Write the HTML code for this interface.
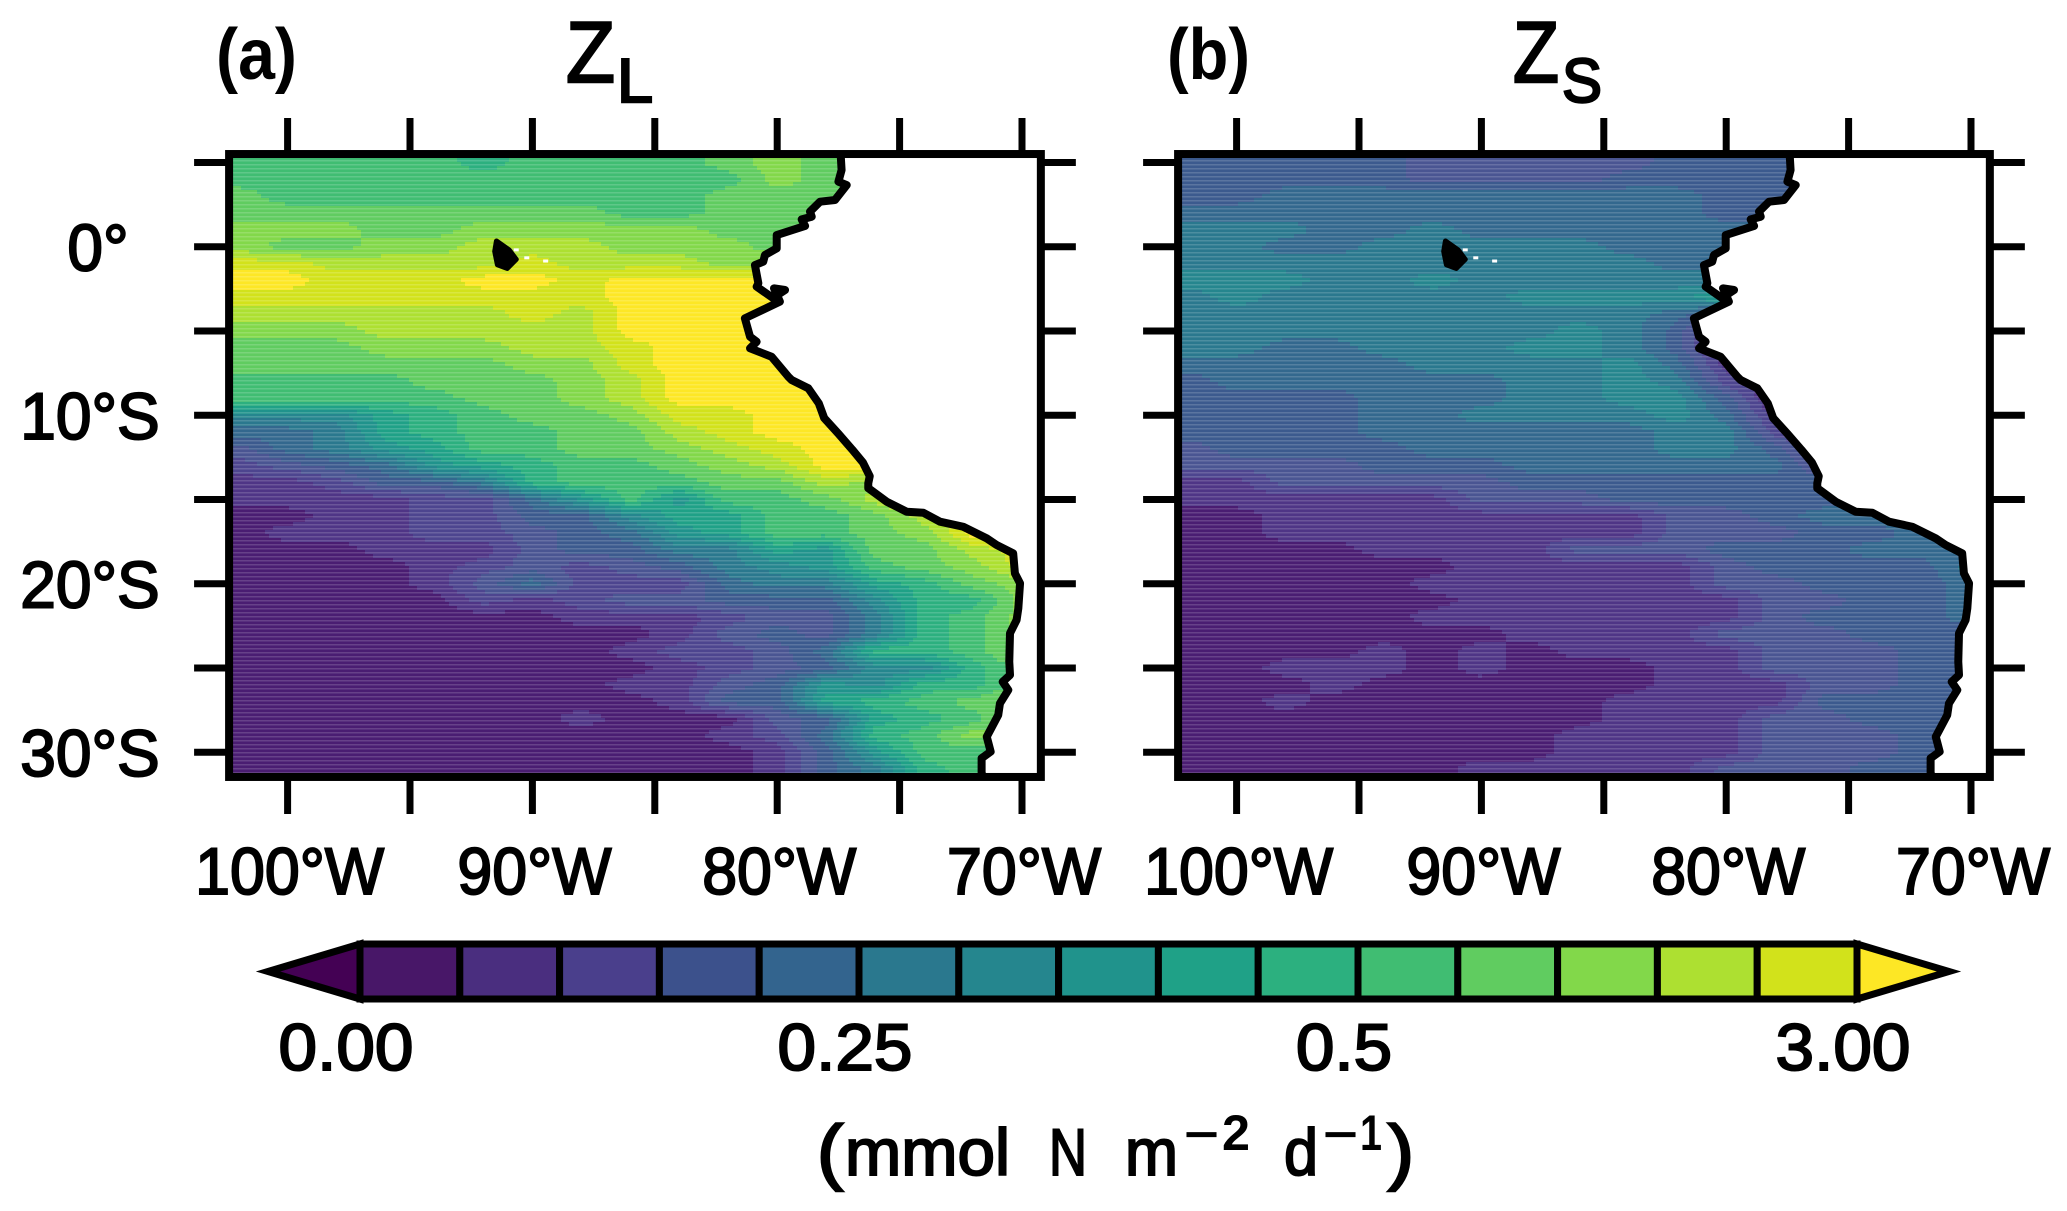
<!DOCTYPE html>
<html lang="en">
<head>
<meta charset="utf-8">
<title>Zooplankton grazing maps</title>
<style>
html,body{margin:0;padding:0;background:#fff;width:2067px;height:1211px;overflow:hidden}
svg{display:block}
text{font-family:"Liberation Sans",sans-serif;fill:#000}
.tick{font-size:66px;stroke:#000;stroke-width:2px}
.ttl{stroke:#000;stroke-width:2.4px}
</style>
</head>
<body>
<svg id="chart" xmlns="http://www.w3.org/2000/svg" width="2067" height="1211" viewBox="0 0 2067 1211">
<defs>
<pattern id="scan" patternUnits="userSpaceOnUse" width="4" height="4"><rect width="4" height="1.5" fill="#fff" fill-opacity="0.16"/></pattern>
</defs>
<text x="216" y="79" font-size="72" font-weight="bold" textLength="81" lengthAdjust="spacingAndGlyphs">(a)</text>
<text x="1167" y="79" font-size="72" font-weight="bold" textLength="83" lengthAdjust="spacingAndGlyphs">(b)</text>
<g><text class="ttl" x="566" y="82" font-size="86" textLength="49" lengthAdjust="spacingAndGlyphs">Z</text><text class="ttl" x="617" y="102" font-size="62" textLength="36" lengthAdjust="spacingAndGlyphs">L</text></g>
<g><text class="ttl" x="1513" y="82" font-size="86" textLength="46" lengthAdjust="spacingAndGlyphs">Z</text><text class="ttl" x="1562" y="102" font-size="62" textLength="40" lengthAdjust="spacingAndGlyphs">S</text></g>
<g id="panels"></g>
<g id="colorbar"></g>
<g>
<text class="ttl" x="817" y="1176" font-size="72" textLength="26" lengthAdjust="spacingAndGlyphs">(</text>
<text class="tick" x="845" y="1175" textLength="165" lengthAdjust="spacingAndGlyphs">mmol</text>
<text class="tick" x="1049" y="1175" textLength="38" lengthAdjust="spacingAndGlyphs">N</text>
<text class="tick" x="1125" y="1175" textLength="53" lengthAdjust="spacingAndGlyphs">m</text>
<text x="1184" y="1150" font-size="46" font-weight="bold" textLength="35" lengthAdjust="spacingAndGlyphs">−</text>
<text x="1222" y="1150" font-size="50" font-weight="bold" textLength="28" lengthAdjust="spacingAndGlyphs">2</text>
<text class="tick" x="1284" y="1175" textLength="34" lengthAdjust="spacingAndGlyphs">d</text>
<text x="1323" y="1150" font-size="46" font-weight="bold" textLength="35" lengthAdjust="spacingAndGlyphs">−</text>
<text x="1360" y="1150" font-size="50" font-weight="bold" textLength="22" lengthAdjust="spacingAndGlyphs">1</text>
<text class="ttl" x="1388" y="1176" font-size="72" textLength="26" lengthAdjust="spacingAndGlyphs">)</text>
</g>
</svg>
<script>
// ---------- data ----------
const lonTicks = [-100,-95,-90,-85,-80,-75,-70];
const latTicks = [5,0,-5,-10,-15,-20,-25,-30];
const lonLabels = [[-100,"100°W"],[-90,"90°W"],[-80,"80°W"],[-70,"70°W"]];
const latLabels = [[0,"0°"],[-10,"10°S"],[-20,"20°S"],[-30,"30°S"]];
const gridLons = [-102,-100,-98,-96,-94,-92,-90,-88,-86,-84,-82,-80,-78,-76,-74,-72,-70,-68];
const gridLats = [5,4,3,2,1,0,-1,-2,-3,-4,-5,-6,-7,-8,-9,-10,-11,-12,-13,-14,-15,-16,-17,-18,-19,-20,-21,-22,-23,-24,-25,-26,-27,-28,-29,-30,-31,-32];
const colorbarLabels = [[0,"0.00"],[5,"0.25"],[10,"0.5"],[15,"3.00"]];
const palette = ["#440154","#481768","#4a2e7f","#4a3f8c","#3c518c","#33648e","#2a788e","#25868e","#20938c","#1fa187","#2cb07f","#40bd72","#60cc60","#82d84a","#ade031","#d2e21b","#fde725"];
const fieldPalette = ["#4a1d72","#4f3586","#4d458f","#4a5592","#3c5a8e","#33688e","#2a788e","#25868e","#20938c","#1fa187","#2cb07f","#40bd72","#60cc60","#82d84a","#ade031","#d2e21b","#fde725"];
const coastLon = [-77.41,-77.37,-77.5,-77.16,-77.64,-78.25,-78.66,-78.59,-79.0,-78.86,-80.02,-80.02,-80.5,-80.57,-80.91,-80.77,-80.84,-80.16,-79.89,-79.68,-80.13,-79.89,-81.32,-81.11,-80.84,-81.11,-80.23,-79.55,-79.41,-78.73,-78.3,-78.08,-77.5,-76.93,-76.5,-76.22,-76.28,-76.28,-75.53,-74.71,-74.03,-73.35,-72.4,-71.44,-71.04,-70.36,-70.29,-70.08,-70.15,-70.22,-70.49,-70.52,-70.49,-70.79,-70.56,-70.9,-70.97,-71.44,-71.28,-71.65,-71.65,-71.55];
const coastLat = [5.54,4.55,3.86,3.66,2.77,2.67,2.08,1.78,1.62,1.23,0.69,-0.1,-0.49,-0.89,-1.09,-2.17,-2.37,-3.06,-2.77,-2.57,-2.47,-3.26,-4.25,-5.34,-5.64,-6.03,-6.53,-7.71,-7.91,-8.4,-9.3,-10.17,-11.1,-12.05,-12.8,-13.62,-14.04,-14.33,-15.13,-15.73,-15.79,-16.32,-16.62,-17.31,-17.7,-18.2,-19.38,-19.98,-21.46,-22.15,-22.94,-24.63,-25.42,-25.82,-26.31,-27.1,-27.79,-29.08,-29.97,-30.36,-31.26,-31.5];
const islandLon = [-91.47,-90.95,-90.66,-91.03,-91.43,-91.54];
const islandLat = [0.34,-0.19,-0.75,-1.29,-1.07,-0.28];
const isletLon = [-90.66,-90.23,-89.46];
const isletLat = [-0.19,-0.66,-0.85];
const zlLevels = [
[11,11,11,11,11,10,11,11,11,11,12,13,12,12],
[11,11,11,11,11,11,11,11,11,11,11,13,12,12],
[12,11,11,11,11,11,11,11,11,11,12,12,12,12],
[12,12,12,12,12,12,12,12,11,11,12,12,12,12],
[13,13,13,12,12,13,13,13,13,13,12,12,12,12],
[13,12,12,13,13,14,14,14,13,13,13,12,12],
[15,15,14,14,14,14,15,14,14,14,13,13,13],
[16,16,15,15,15,16,16,15,16,16,16,16,16],
[15,15,15,15,15,15,15,15,16,16,16,16,16],
[14,14,14,14,14,14,15,14,16,16,16,16,16],
[13,13,13,14,14,14,14,14,16,16,16,16,16],
[12,12,12,13,13,13,14,14,15,16,16,16,16],
[12,12,12,12,12,12,13,13,15,16,16,16,16],
[11,11,11,11,12,12,12,13,14,16,16,16,16],
[11,11,11,11,11,12,12,13,14,16,16,16,16],
[7,7,7,9,10,11,12,12,13,15,15,16,16,16],
[5,5,6,9,10,11,11,12,12,14,15,16,16,16],
[3,5,6,8,9,11,11,12,12,13,14,15,16,16],
[2,3,4,5,8,9,10,11,11,12,13,14,16,16],
[1,1,2,4,4,6,10,11,11,11,12,12,14,13,13],
[1,1,1,1,2,2,5,8,11,8,11,11,12,14,16,16],
[0,0,1,1,2,2,4,4,7,9,9,11,11,12,14,15,15],
[0,1,1,1,2,2,3,4,5,8,9,11,11,12,13,16,16],
[0,0,0,1,1,1,3,4,4,6,6,9,8,12,12,14,15,15],
[0,0,0,0,1,2,3,2,3,4,6,7,8,11,12,13,15,15],
[0,0,0,0,1,3,5,2,2,2,5,6,6,9,10,12,13,13],
[0,0,0,0,0,2,1,2,3,3,4,4,4,7,10,10,13,13],
[0,0,0,0,0,0,0,1,1,1,2,3,3,6,10,11,13,13],
[0,0,0,0,0,0,0,0,0,1,3,4,3,6,10,11,13,13],
[0,0,0,0,0,0,0,0,1,2,2,3,5,10,10,11,13,13],
[0,0,0,0,0,0,0,0,0,1,2,3,4,7,7,10,12,12],
[0,0,0,0,0,0,0,0,1,1,3,4,8,7,10,10,12,12],
[0,0,0,0,0,0,0,0,0,1,4,4,9,10,11,12,13,13],
[0,0,0,0,0,0,0,1,0,0,0,3,4,9,10,11,13,13],
[0,0,0,0,0,0,0,0,0,0,1,2,5,10,11,13,13,13],
[0,0,0,0,0,0,0,0,0,0,0,1,4,8,11,11,11,11],
[0,0,0,0,0,0,0,0,0,0,0,1,4,6,10,11,11,11],
[0,0,0,0,0,0,0,0,0,0,0,1,4,6,10,11,11,11]
];
const zsLevels = [
[4,4,4,4,4,3,3,3,3,3,4,4,4,4],
[4,4,4,4,4,3,3,3,3,4,4,4,4,4],
[4,4,5,5,5,5,5,5,5,5,5,4,4,4],
[5,5,5,5,5,5,5,5,5,5,5,4,4,4],
[6,6,6,5,5,6,5,5,5,5,5,5,5],
[6,6,5,5,6,6,6,6,6,5,5,5,5],
[6,6,6,6,6,6,6,6,6,6,5,5,5],
[7,7,7,6,6,7,6,6,6,6,6,6,6],
[6,7,6,6,6,6,6,7,7,7,7,9,9],
[6,6,6,6,6,6,6,6,6,6,5,3,3],
[6,6,6,6,6,6,6,6,7,6,4,0,0],
[6,6,5,5,6,6,6,7,7,6,4,0,0],
[5,5,5,5,5,6,6,6,6,7,5,1,1],
[4,5,5,5,5,5,5,6,6,7,6,2,0,0],
[4,4,4,4,5,5,5,6,6,7,7,4,0,0],
[4,4,4,4,5,5,6,6,6,6,7,5,1,1],
[4,4,4,4,5,5,5,5,5,5,6,6,2,1,1],
[3,4,4,4,4,5,5,5,5,5,6,6,4,1,1],
[3,3,3,3,4,4,4,5,5,5,5,5,5,2,2],
[1,1,3,3,3,3,3,4,4,4,4,4,4,4,4],
[1,1,1,1,1,1,3,3,3,4,4,4,4,4,4],
[0,0,1,1,1,1,1,1,1,1,3,3,4,5,5,5],
[0,0,1,1,1,1,1,1,1,1,3,3,3,4,4,5,5],
[0,0,0,0,1,1,1,1,3,3,3,4,4,4,5,5,5,5],
[0,0,0,0,0,0,1,1,1,1,1,3,4,4,4,4,6,6],
[0,0,0,0,0,1,1,1,1,1,1,3,3,4,4,4,5,5],
[0,0,0,0,0,0,1,1,1,1,1,1,3,3,4,4,5,5],
[0,0,0,0,0,1,1,1,1,1,1,1,3,4,4,4,5,5],
[0,0,0,0,0,0,0,1,1,1,1,3,3,3,4,4,4,4],
[0,0,0,0,1,0,1,0,1,1,1,1,3,3,3,4,4,4],
[0,0,1,1,1,0,1,0,0,0,1,1,3,3,3,4,4,4],
[0,0,0,1,0,0,0,0,0,0,1,1,1,3,3,4,4,4],
[0,0,1,0,0,0,0,0,0,1,1,1,1,4,4,4,4,4],
[0,0,0,0,0,0,0,0,0,1,1,1,3,3,4,4,4,4],
[0,0,0,0,0,0,0,0,1,1,1,1,3,3,3,4,4,4],
[0,0,0,0,0,0,0,0,1,1,1,1,3,3,3,4,4,4],
[0,0,0,0,0,0,1,1,1,1,1,3,3,3,4,4,4,4],
[0,0,0,0,0,0,1,1,1,1,1,3,3,3,4,4,4,4]
];

// ---------- axis functions ----------
const SVGNS = "http://www.w3.org/2000/svg";
const xScale = 24.48, yScale = 16.85;
const X0 = 287.6, Y0 = 246.7;
const LEFT_LON = -102.39, RIGHT_LON = -69.23, TOP_LAT = 5.5, BOTTOM_LAT = -31.47;
function lonToX(lon, off){ return X0 + (lon + 100) * xScale + off; }
function latToY(lat){ return Y0 - lat * yScale; }
function mk(tag, attrs, parent){
  const e = document.createElementNS(SVGNS, tag);
  for (const k in attrs) e.setAttribute(k, attrs[k]);
  parent.appendChild(e);
  return e;
}
function squeeze(t, factor){
  const len = t.getComputedTextLength();
  t.setAttribute("textLength", (len * factor).toFixed(1));
  t.setAttribute("lengthAdjust", "spacingAndGlyphs");
}
function sample(levels, lon, lat){
  let fx = (lon - gridLons[0]) / (gridLons[1] - gridLons[0]);
  let fy = (gridLats[0] - lat) / (gridLats[0] - gridLats[1]);
  fx = Math.max(0, Math.min(gridLons.length - 1, fx));
  fy = Math.max(0, Math.min(gridLats.length - 1, fy));
  const i0 = Math.floor(fx), j0 = Math.floor(fy);
  const i1 = Math.min(i0 + 1, gridLons.length - 1), j1 = Math.min(j0 + 1, gridLats.length - 1);
  const get = (j, i) => { const r = levels[j]; return r[Math.min(i, r.length - 1)]; };
  const tx = fx - i0, ty = fy - j0;
  return (get(j0,i0)*(1-tx) + get(j0,i1)*tx)*(1-ty) + (get(j1,i0)*(1-tx) + get(j1,i1)*tx)*ty;
}
function drawPanel(id, levels, off){
  const root = document.getElementById("panels");
  const g = mk("g", {}, root);
  
  
  const pl = lonToX(LEFT_LON, off), pr = lonToX(RIGHT_LON, off), pt = latToY(TOP_LAT), pb = latToY(BOTTOM_LAT);

  // ocean clip from coast arrays
  const clip = mk("clipPath", {id: "ocean-" + id}, g);
  let pts = [[pl - 1, pt - 1]];
  coastLon.forEach((lon, i) => pts.push([lonToX(lon, off), latToY(coastLat[i])]));
  pts.push([lonToX(coastLon[coastLon.length-1], off), pb + 1], [pl - 1, pb + 1]);
  mk("polygon", {points: pts.map(p => p.join(",")).join(" ")}, clip);
  const boxClip = mk("clipPath", {id: "box-" + id}, g);
  mk("rect", {x: pl, y: pt, width: pr - pl, height: pb - pt}, boxClip);

  // heatmap cells from levels, merged into horizontal runs
  const field = mk("g", {"clip-path": "url(#ocean-" + id + ")", "shape-rendering": "crispEdges"}, g);
  
  
  const stepX = 4, stepY = 4;
  for (let y = pt; y < pb; y += stepY){
    const lat = (Y0 - (y + stepY / 2)) / yScale;
    let runStart = pl, runLevel = null;
    for (let x = pl; x <= pr + stepX; x += stepX){
      const lon = (x + stepX / 2 - X0 - off) / xScale - 100;
      const lv = x > pr ? -1 : Math.round(sample(levels, lon, lat));
      if (lv !== runLevel){
        if (runLevel !== null && runLevel >= 0){
          const cell = mk("rect", {x: runStart, y: y, width: x - runStart + 0.5, height: stepY + 0.5, fill: fieldPalette[Math.max(0, Math.min(16, runLevel))]}, field);
          
          
        }
        runStart = x; runLevel = lv;
      }
    }
  }
  // scan-line overlay
  const scan = mk("rect", {x: pl, y: pt, width: pr - pl, height: pb - pt, fill: "url(#scan)", "clip-path": "url(#ocean-" + id + ")"}, g);
  
  

  // coastline + islands
  const coastPts = coastLon.map((lon, i) => lonToX(lon, off) + "," + latToY(coastLat[i])).join(" ");
  const coast = mk("polyline", {points: coastPts, fill: "none", stroke: "#000", "stroke-width": 8, "stroke-linejoin": "round", "stroke-linecap": "butt", "clip-path": "url(#box-" + id + ")"}, g);
  
  
  const island = mk("polygon", {points: islandLon.map((lon, i) => lonToX(lon, off) + "," + latToY(islandLat[i])).join(" "), fill: "#000", stroke: "#000", "stroke-width": 5, "stroke-linejoin": "round"}, g);
  
  
  isletLon.forEach((lon, i) => {
    const d = mk("rect", {x: lonToX(lon, off) - 2.5, y: latToY(isletLat[i]) - 1.5, width: 5, height: 3, fill: "#fff"}, g);
    
    
  });

  // frame
  const frame = mk("rect", {x: pl, y: pt, width: pr - pl, height: pb - pt, fill: "none", stroke: "#000", "stroke-width": 8}, g);
  
  

  // ticks
  lonTicks.forEach(lon => {
    const x = lonToX(lon, off);
    const a = mk("line", {x1: x, x2: x, y1: 118, y2: pt, stroke: "#000", "stroke-width": 7}, g);
    
    
    const b = mk("line", {x1: x, x2: x, y1: pb, y2: 814, stroke: "#000", "stroke-width": 7}, g);
    
    
  });
  latTicks.forEach(lat => {
    const y = latToY(lat);
    const a = mk("line", {x1: pl - 35, x2: pl, y1: y, y2: y, stroke: "#000", "stroke-width": 7}, g);
    
    
    const b = mk("line", {x1: pr, x2: pr + 35, y1: y, y2: y, stroke: "#000", "stroke-width": 7}, g);
    
    
  });
  lonLabels.forEach(item => {
    const t = mk("text", {class: "tick", x: lonToX(item[0], off) + 2, y: 894, "text-anchor": "middle"}, g);
    
    
    t.textContent = item[1];
    squeeze(t, 0.95);
  });
}
drawPanel("a", zlLevels, 0);
drawPanel("b", zsLevels, 949);

// y labels (left panel only)
latLabels.forEach(item => {
  const shift = item[1].length === 2 ? 8 : 0;
  const t = mk("text", {class: "tick", x: 90 + shift, y: latToY(item[0]) + 24, "text-anchor": "middle"}, document.getElementById("panels"));
  
  
  t.textContent = item[1];
  squeeze(t, 0.97);
});

// colour bar
(function(){
  const g = document.getElementById("colorbar");
  
  
  const x0 = 360, w = 99.8, top = 944, bot = 999, mid = 971.5, apexL = 268, boxes = palette.length - 2;
  const xEnd = x0 + w * boxes, apexR = xEnd + 92;
  const left = mk("polygon", {points: `${apexL},${mid} ${x0},${top} ${x0},${bot}`, fill: palette[0], stroke: "#000", "stroke-width": 7, "stroke-linejoin": "miter"}, g);
  
  
  const right = mk("polygon", {points: `${apexR},${mid} ${xEnd},${top} ${xEnd},${bot}`, fill: palette[16], stroke: "#000", "stroke-width": 7, "stroke-linejoin": "miter"}, g);
  
  
  for (let i = 0; i < boxes; i++){
    const r = mk("rect", {x: x0 + i * w, y: top, width: w, height: bot - top, fill: palette[i + 1], stroke: "#000", "stroke-width": 7}, g);
    
    
  }
  colorbarLabels.forEach(item => {
    const t = mk("text", {class: "tick", x: x0 + item[0] * w - 14, y: 1070, "text-anchor": "middle"}, g);
    
    
    t.textContent = item[1];
    squeeze(t, 1.05);
  });
})();
</script>
</body>
</html>
